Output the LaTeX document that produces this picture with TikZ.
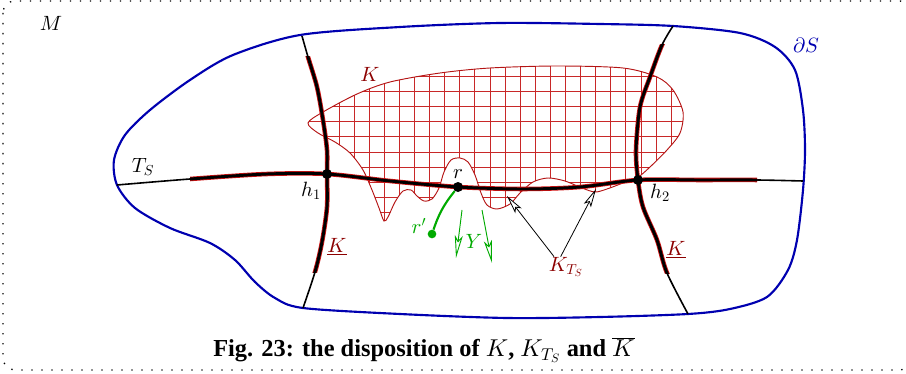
\documentclass[tikz,border=0pt]{standalone}
\usepackage{fontspec}
\newfontfamily\capfont{Liberation Serif}
\DeclareFontShape{OML}{cmm}{m}{it}{<->cmmi10}{}
\DeclareFontShape{OT1}{cmr}{m}{n}{<->cmr10}{}
\DeclareFontShape{OMS}{cmsy}{m}{n}{<->cmsy10}{}
\usetikzlibrary{arrows.meta}
\definecolor{sblue}{RGB}{0,0,176}
\definecolor{kred}{RGB}{140,0,0}
\definecolor{kline}{RGB}{180,20,20}
\definecolor{hatchred}{RGB}{200,40,40}
\definecolor{ygreen}{RGB}{0,170,0}
\definecolor{underred}{RGB}{210,20,20}

\begin{document}
\begin{tikzpicture}[x=0.75pt,y=-0.75pt,
    lab/.style={font=\fontsize{15.5}{18}\selectfont},
    pnt/.style={circle,fill,inner sep=0pt,minimum size=7.5pt},
    thinln/.style={black,line width=1.2pt},
    heavyln/.style={draw=underred,double=black,double distance=2.2pt,line width=0.6pt},
    openarr/.style={-{Stealth[open,fill=white,length=14pt,width=6pt,inset=3pt]}},
    yarr/.style={ygreen,line width=0.7pt,-{Stealth[open,length=17pt,width=6pt,inset=4pt]}}]
  \useasboundingbox (0,0) rectangle (906,374);
  % dotted frame
  \draw[line width=1pt,dash pattern=on 1pt off 6.5pt,rounded corners=9pt] (3,1) rectangle (912,370);
  % the boundary dS
  \draw[sblue,line width=1.6pt] plot[smooth cycle,tension=0.5] coordinates {
    (500,23) (600,24) (673,26) (740,33) (775,47) (795,70) (803,110) (805,150)
    (803,190) (797,240) (788,270) (767,297) (730,309) (688,314) (600,317)
    (507,318) (400,314) (303,308) (275,298) (255,282) (235,260) (210,243)
    (170,228) (135,208) (117,185) (114,160) (125,135) (150,110) (190,80)
    (233,55) (300,35) (400,27)};
  % the set K, hatched
  \def\kpath{plot[smooth cycle,tension=0.5] coordinates {
      (308,123) (323,112) (357,94) (390,82) (440,73) (490,68) (557,66) (623,68)
      (657,77) (673,90) (683,112) (680,133) (667,150) (650,167) (637,178)
      (623,183) (607,189) (595,192) (582,188) (565,181) (548,178) (533,182)
      (520,193) (510,204) (497,209) (487,205) (481,193) (475,175) (468,162)
      (460,158) (451,160) (444,172) (439,188) (432,199) (424,201) (417,196)
      (411,190) (403,191) (395,202) (388,217) (384,221) (379,208) (372,190)
      (363,170) (350,153) (335,142) (318,133)}}
  \begin{scope}
    \clip \kpath;
    \foreach \i in {-1,...,24}
      \draw[hatchred,line width=0.65pt] (339+15.1*\i,50) -- ++(0,190);
    \foreach \j in {0,...,10}
      \draw[hatchred,line width=0.65pt] (290,76.5+15.1*\j) -- ++(420,0);
  \end{scope}
  \draw[kline,line width=0.7pt] \kpath;
  % T_S and the two transversal curves h_1, h_2
  \def\tspath{plot[smooth,tension=0.5] coordinates {(117,185) (190,179) (267,174)
    (327,174) (390,181) (458,187) (523,189) (580,187) (638,180) (700,180) (757,180) (803,181)}}
  \def\hapath{plot[smooth,tension=0.5] coordinates {(302,36) (308,57) (317,87)
    (323,120) (327,150) (327,174) (327,207) (322,242) (315,272) (303,308)}}
  \def\hbpath{plot[smooth,tension=0.5] coordinates {(673,26) (662,45) (650,77)
    (640,107) (636,150) (638,180) (643,207) (657,240) (667,273) (688,314)}}
  \draw[thinln] \tspath;
  \draw[thinln] \hapath;
  \draw[thinln] \hbpath;
  \begin{scope}
    \clip (190,0) rectangle (757,374);
    \draw[heavyln] \tspath;
  \end{scope}
  \begin{scope}
    \clip (0,57) rectangle (500,272);
    \draw[heavyln] \hapath;
  \end{scope}
  \begin{scope}
    \clip (500,45) rectangle (906,273);
    \draw[heavyln] \hbpath;
  \end{scope}
  % points
  \node[pnt] (h1) at (327,174) {};
  \node[pnt] (r) at (458,187) {};
  \node[pnt] (h2) at (638,180) {};
  \node[pnt,ygreen,minimum size=6.5pt] (rp) at (432,234) {};
  \draw[ygreen,line width=1.6pt] (r) to[bend right=10] (rp);
  % the field Y
  \draw[yarr] (462,210) -- (456,258);
  \draw[yarr] (482,210) -- (492,263);
  % labels
  \node[lab] (Mlab) at (51,23) {$M$};
  \node[lab,sblue] (dSlab) at (806,45) {$\partial S$};
  \node[lab,kred] (Klab) at (370,74) {$K$};
  \node[lab] (TSlab) at (143,167) {$T_S$};
  \node[lab] (h1lab) at (311,191) {$h_1$};
  \node[lab] (rlab) at (458,174) {$r$};
  \node[lab] (h2lab) at (660,193) {$h_2$};
  \node[lab,ygreen] (rplab) at (419,226) {$r'$};
  \node[lab,ygreen] (Ylab) at (474,241) {$Y$};
  \node[lab,kred] (Kleft) at (337,247) {$\underline{K}$};
  \node[lab,kred] (Kright) at (676,250) {$\underline{K}$};
  \node[lab,kred] (kts) at (566,267) {$K_{T_S}$};
  % K_{T_S} pointers
  \coordinate (kt1) at (507,196);
  \coordinate (kt2) at (596,189);
  \draw[openarr,line width=0.6pt] ([xshift=-9pt,yshift=-3pt]kts.north) -- (kt1);
  \draw[openarr,line width=0.6pt] ([xshift=-4pt,yshift=-3pt]kts.north) -- (kt2);
  % caption
  \node[font=\capfont\bfseries\fontsize{18.3}{21}\selectfont] (cap) at (424,350)
    {Fig. 23: the disposition of $K$, $K_{T_S}$ and $\overline{K}$};
\end{tikzpicture}
\end{document}
